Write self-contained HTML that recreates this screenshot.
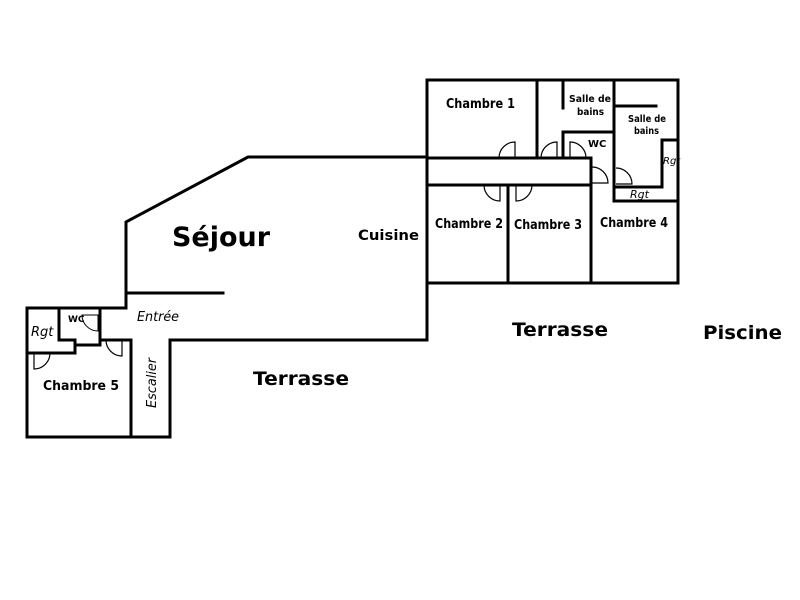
<!DOCTYPE html>
<html><head><meta charset="utf-8"><style>
html,body{margin:0;padding:0;background:#fff;}
svg{display:block}
text{font-family:"DejaVu Sans","Liberation Sans",sans-serif;fill:#000}
.b{font-weight:bold}
</style></head><body>
<svg width="800" height="600" viewBox="0 0 800 600" xmlns="http://www.w3.org/2000/svg">
<g fill="none" stroke="#000" stroke-width="3" stroke-linecap="square">
<polyline points="427,157 248,157 126,222 126,308 27,308 27,437 170,437 170,340 427,340 427,157"/>
<line x1="131" y1="340" x2="131" y2="437"/>
<line x1="100" y1="340" x2="131" y2="340"/>
<line x1="126" y1="293" x2="223" y2="293"/>
<polyline points="59,308 59,340 75,340 75,353 27,353"/>
<polyline points="75,345 100,345 100,308"/>
<rect x="427" y="80" width="251" height="203"/>
<line x1="537" y1="80" x2="537" y2="158"/>
<line x1="427" y1="158" x2="591" y2="158"/>
<line x1="427" y1="185" x2="591" y2="185"/>
<line x1="591" y1="158" x2="591" y2="283"/>
<line x1="508" y1="185" x2="508" y2="283"/>
<line x1="563" y1="80" x2="563" y2="108"/>
<polyline points="563,158 563,132 614,132"/>
<line x1="614" y1="80" x2="614" y2="201"/>
<line x1="614" y1="106" x2="656" y2="106"/>
<polyline points="678,140 662,140 662,187 614,187"/>
<line x1="614" y1="201" x2="678" y2="201"/>
</g>
<g fill="none" stroke="#000" stroke-width="1.2">
<path d="M515,158 L515,142 A16,16 0 0 0 499,158"/>
<path d="M557,158 L557,142 A16,16 0 0 0 541,158"/>
<path d="M570,158 L570,142 A16,16 0 0 1 586,158"/>
<path d="M500,185 L500,201 A16,16 0 0 1 484,185"/>
<path d="M516,185 L516,201 A16,16 0 0 0 532,185"/>
<path d="M592,167 A16,16 0 0 1 608,183 L592,183"/>
<path d="M616,168 A16,16 0 0 1 632,184 L616,184"/>
<path d="M34,353 L34,369 A16,16 0 0 0 50,353"/>
<path d="M82,315 A16,16 0 0 0 98,331 L98,315 Z" stroke-width="1"/>
<path d="M122,340 L122,356 A16,16 0 0 1 106,340"/>
</g>
<g class="b">
<text x="172" y="246" font-size="27" textLength="98" lengthAdjust="spacingAndGlyphs">Séjour</text>
<text x="358" y="240" font-size="14" textLength="61" lengthAdjust="spacingAndGlyphs">Cuisine</text>
<text x="446" y="108" font-size="13" textLength="69" lengthAdjust="spacingAndGlyphs">Chambre 1</text>
<text x="569" y="102" font-size="10" textLength="42" lengthAdjust="spacingAndGlyphs">Salle de</text>
<text x="577" y="115" font-size="10" textLength="27" lengthAdjust="spacingAndGlyphs">bains</text>
<text x="628" y="122" font-size="10" textLength="38" lengthAdjust="spacingAndGlyphs">Salle de</text>
<text x="634" y="134" font-size="10" textLength="25" lengthAdjust="spacingAndGlyphs">bains</text>
<text x="588" y="147" font-size="10">WC</text>
<text x="435" y="228" font-size="13" textLength="68" lengthAdjust="spacingAndGlyphs">Chambre 2</text>
<text x="514" y="229" font-size="13" textLength="68" lengthAdjust="spacingAndGlyphs">Chambre 3</text>
<text x="600" y="227" font-size="13" textLength="68" lengthAdjust="spacingAndGlyphs">Chambre 4</text>
<text x="43" y="390" font-size="13" textLength="76" lengthAdjust="spacingAndGlyphs">Chambre 5</text>
<text x="512" y="336" font-size="19" textLength="96" lengthAdjust="spacingAndGlyphs">Terrasse</text>
<text x="253" y="385" font-size="19" textLength="96" lengthAdjust="spacingAndGlyphs">Terrasse</text>
<text x="703" y="339" font-size="19" textLength="79" lengthAdjust="spacingAndGlyphs">Piscine</text>
<text x="68" y="322" font-size="9">WC</text>
</g>
<g font-style="italic">
<text x="137" y="321" font-size="13" textLength="42" lengthAdjust="spacingAndGlyphs">Entrée</text>
<text x="31" y="336" font-size="13">Rgt</text>
<text x="663" y="164" font-size="10">Rgt</text>
<text x="630" y="198" font-size="11">Rgt</text>
<text transform="translate(156,408) rotate(-90)" font-size="13" textLength="50" lengthAdjust="spacingAndGlyphs">Escalier</text>
</g>
</svg>
</body></html>
